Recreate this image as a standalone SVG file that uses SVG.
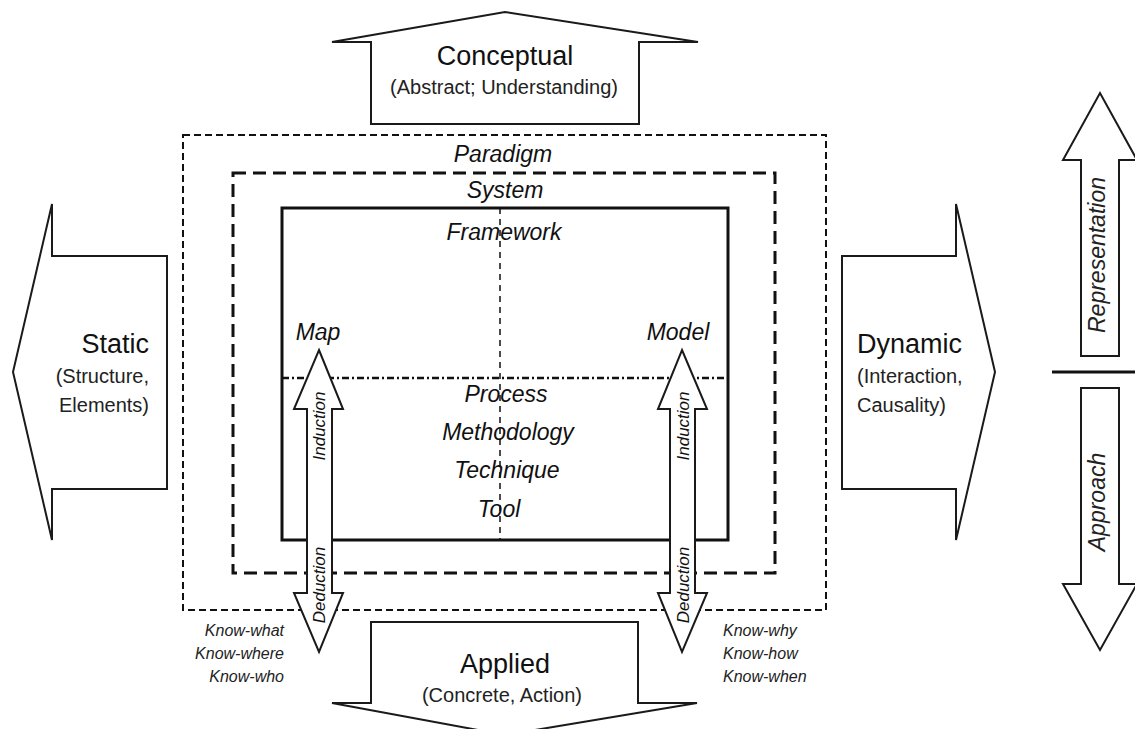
<svg xmlns="http://www.w3.org/2000/svg" width="1135" height="729" viewBox="0 0 1135 729">
<style>
.arrow{fill:#fff;stroke:#1a1a1a;stroke-width:2;stroke-linejoin:miter}
.t{font-family:"Liberation Sans",Arial,sans-serif;fill:#111}
.title{font-size:27px}
.sub{font-size:20px;fill:#222}
.lbl{font-size:23px;font-style:italic}
.rot{font-size:17px;font-style:italic}
.rot2{font-size:23px;font-style:italic;fill:#222}
.know{font-size:16px;font-style:italic;fill:#222}
.mid{text-anchor:middle}
.end{text-anchor:end}
</style>
<rect width="1135" height="729" fill="#fff"/>

<g id="paradigm">
<rect x="183" y="135" width="643" height="475" fill="none" stroke="#111" stroke-width="2" stroke-dasharray="7 4"/>
<text class="t lbl mid" x="503" y="162">Paradigm</text>
</g>
<g id="system">
<rect x="233" y="173" width="542" height="400" fill="none" stroke="#111" stroke-width="3" stroke-dasharray="13 7"/>
<text class="t lbl mid" x="505" y="198">System</text>
</g>
<g id="framework">
<rect x="282" y="208" width="446" height="332" fill="none" stroke="#111" stroke-width="3"/>
<line x1="500" y1="208" x2="500" y2="540" stroke="#111" stroke-width="1.5" stroke-dasharray="6 5"/>
<line x1="282" y1="378" x2="728" y2="378" stroke="#111" stroke-width="2.5" stroke-dasharray="7 3 2 3"/>
<text class="t lbl mid" x="504" y="240">Framework</text>
</g>
<g id="map"><text class="t lbl mid" x="318" y="340">Map</text></g>
<g id="model"><text class="t lbl mid" x="678" y="340">Model</text></g>
<g id="process"><text class="t lbl mid" x="506" y="402">Process</text></g>
<g id="methodology"><text class="t lbl mid" x="508" y="440">Methodology</text></g>
<g id="technique"><text class="t lbl mid" x="507" y="478">Technique</text></g>
<g id="tool"><text class="t lbl mid" x="499" y="517">Tool</text></g>

<g id="connectors">
<polygon class="arrow" points="319,350 343,409 332,409 332,593 343,593 319,652 294,593 307,593 307,409 294,409"/>
<polygon class="arrow" points="682,350 707,409 695,409 695,593 707,593 682,652 658,593 670,593 670,409 658,409"/>
<text class="t rot mid" transform="translate(325,426) rotate(-90)">Induction</text>
<text class="t rot mid" transform="translate(325,585) rotate(-90)">Deduction</text>
<text class="t rot mid" transform="translate(689,426) rotate(-90)">Induction</text>
<text class="t rot mid" transform="translate(689,585) rotate(-90)">Deduction</text>
</g>

<g id="conceptual">
<polygon class="arrow" points="371,124 371,42 332,42 505,12 698,42 639,42 639,124"/>
<text class="t title mid" x="505" y="65">Conceptual</text>
<text class="t sub mid" x="504" y="94">(Abstract; Understanding)</text>
</g>
<g id="applied">
<polygon class="arrow" points="371,622 638,622 638,703 697,703 505,735 332,703 371,703"/>
<text class="t title mid" x="505" y="673">Applied</text>
<text class="t sub mid" x="502" y="702">(Concrete, Action)</text>
</g>
<g id="static">
<polygon class="arrow" points="167,256 52,256 52,204 13,372 52,540 52,489 167,489"/>
<text class="t title end" x="149" y="353">Static</text>
<text class="t sub end" x="149" y="383">(Structure,</text>
<text class="t sub end" x="149" y="412">Elements)</text>
</g>
<g id="dynamic">
<polygon class="arrow" points="842,256 956,256 956,204 995,372 956,540 956,489 842,489"/>
<text class="t title" x="857" y="353">Dynamic</text>
<text class="t sub" x="857" y="383">(Interaction,</text>
<text class="t sub" x="857" y="412">Causality)</text>
</g>

<g id="know-left">
<text class="t know end" x="284" y="636">Know-what</text>
<text class="t know end" x="284" y="659">Know-where</text>
<text class="t know end" x="284" y="682">Know-who</text>
</g>
<g id="know-right">
<text class="t know" x="723" y="636">Know-why</text>
<text class="t know" x="723" y="659">Know-how</text>
<text class="t know" x="723" y="682">Know-when</text>
</g>

<g id="representation">
<polygon class="arrow" points="1081,356 1081,160 1063,160 1100,93 1137,160 1119,160 1119,356"/>
<text class="t rot2 mid" transform="translate(1105,255) rotate(-90)">Representation</text>
</g>
<g id="divider">
<line x1="1052" y1="372" x2="1135" y2="372" stroke="#111" stroke-width="3"/>
</g>
<g id="approach">
<polygon class="arrow" points="1081,388 1119,388 1119,584 1137,584 1100,650 1063,584 1081,584"/>
<text class="t rot2 mid" transform="translate(1105,502) rotate(-90)">Approach</text>
</g>
</svg>
